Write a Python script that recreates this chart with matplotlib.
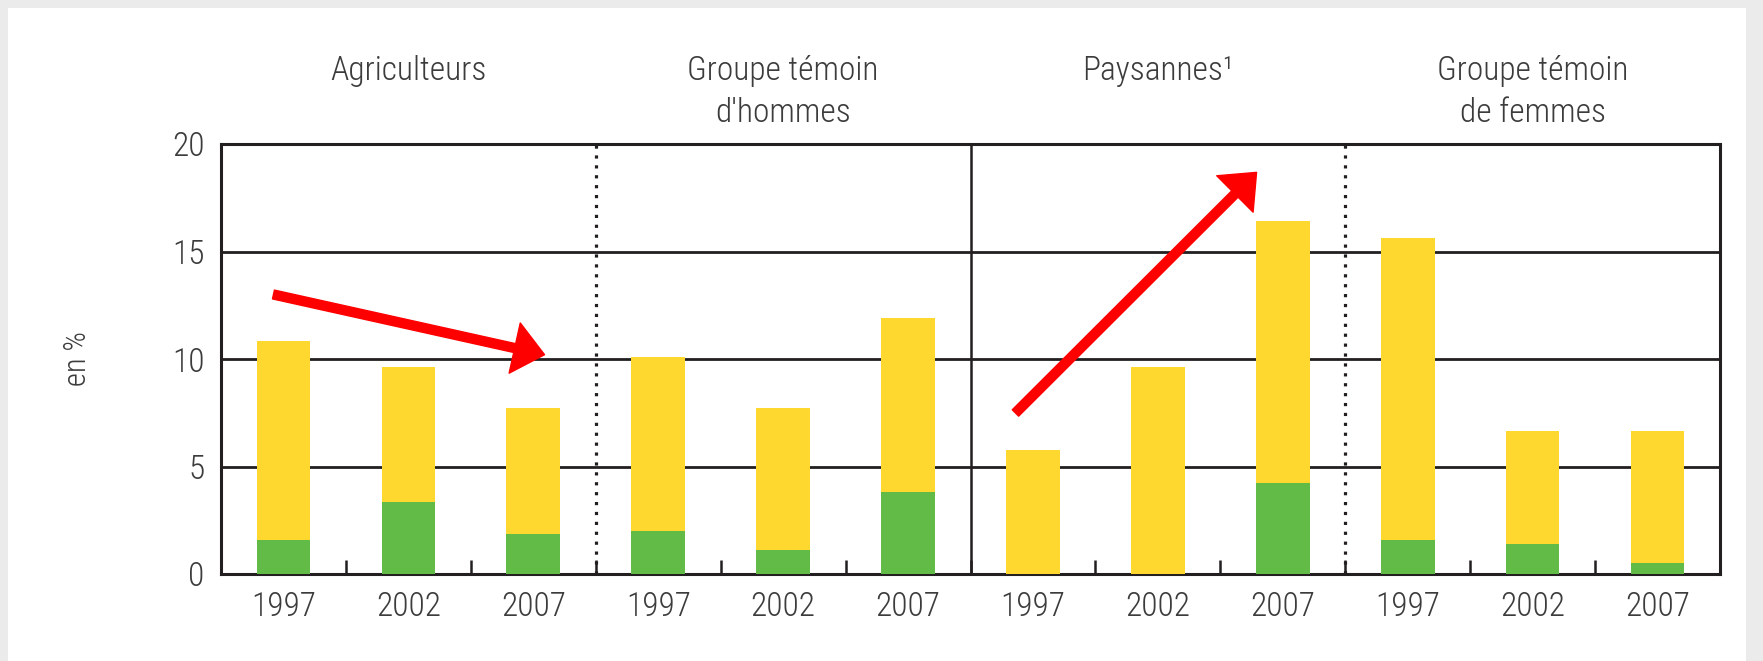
import numpy as np
import matplotlib.pyplot as plt
from matplotlib import font_manager
from matplotlib.patches import Rectangle

# pick a narrow family if there is one
have = {f.name for f in font_manager.fontManager.ttflist}
for fam in ['Liberation Sans Narrow', 'DejaVu Sans Condensed', 'Roboto Condensed',
            'Liberation Sans', 'DejaVu Sans']:
    if fam in have:
        break
plt.rcParams['font.family'] = [fam, 'DejaVu Sans']
plt.rcParams['font.weight'] = 'light'

# data
groups = ['Agriculteurs', "Groupe témoin\nd'hommes", 'Paysannes¹', 'Groupe témoin\nde femmes']
years = ['1997', '2002', '2007']
total = [10.85, 9.65, 7.7, 10.1, 7.7, 11.9, 5.75, 9.65, 16.4, 15.65, 6.65, 6.65]
green = [1.6, 3.35, 1.85, 2.0, 1.1, 3.8, 0.0, 0.0, 4.25, 1.6, 1.4, 0.5]

YELLOW = '#fed82e'
GREEN = '#61bb46'
TXT = '#3c3c3c'
LINE = '#231f20'

W, H = 1763, 661
fig = plt.figure(figsize=(W / 100, H / 100), dpi=100)
fig.patch.set_facecolor('#ebebeb')
fig.patches.append(Rectangle((8 / W, 0), (1746 - 8) / W, 1 - 8 / H,
                             transform=fig.transFigure, facecolor='white',
                             edgecolor='none', zorder=-5))

ax = fig.add_axes([221 / W, 1 - 574 / H, (1720 - 221) / W, (574 - 144) / H])
ax.set_zorder(2)
ax.patch.set_alpha(0)

x = np.arange(len(total)) + 0.5
yellow = np.array(total) - np.array(green)
ax.bar(x, green, width=0.43, color=GREEN, zorder=3)
ax.bar(x, yellow, width=0.43, bottom=green, color=YELLOW, zorder=3)

ax.set_xlim(0, 12)
ax.set_ylim(0, 20)

# horizontal grid
for v in [5, 10, 15]:
    ax.axhline(v, color=LINE, lw=2.0, zorder=1)

# group separators
ax.axvline(3, color=LINE, lw=2.3, ls=(0, (1, 2.1)), zorder=2)
ax.axvline(9, color=LINE, lw=2.3, ls=(0, (1, 2.1)), zorder=2)
ax.axvline(6, color=LINE, lw=1.8, zorder=2)

for s in ax.spines.values():
    s.set_linewidth(2.2)
    s.set_color(LINE)

ax.set_xticks(x)
ax.set_xticklabels(years * 4)
ax.set_xticks(np.arange(1, 12), minor=True)
ax.tick_params(axis='x', which='major', length=0, pad=12, labelsize=24, labelcolor=TXT)
ax.tick_params(axis='x', which='minor', direction='in', length=10, width=1.8, color=LINE)
ax.set_yticks([0, 5, 10, 15, 20])
ax.tick_params(axis='y', length=0, pad=12, labelsize=24, labelcolor=TXT)

fig.text(77 / W, 0.5 * ((1 - 574 / H) + (1 - 144 / H)), 'en %', rotation=90,
         ha='center', va='center', fontsize=22, color=TXT)

# group titles
for i, g in enumerate(groups):
    cx = (221 + (1720 - 221) * (3 * i + 1.5) / 12) / W
    for j, line in enumerate(g.split('\n')):
        fig.text(cx, 1 - (80 + 42 * j) / H, line, ha='center', va='baseline',
                 fontsize=24, color=TXT)

# red trend arrows
style = 'simple,head_length=22,head_width=37,tail_width=6.5'
ax.annotate('', xy=(2.59, 10.2), xytext=(0.42, 13.0),
            arrowprops=dict(arrowstyle=style, mutation_scale=1, color='#ff0000',
                            shrinkA=0, shrinkB=0), zorder=5)
ax.annotate('', xy=(8.29, 18.68), xytext=(6.36, 7.49),
            arrowprops=dict(arrowstyle=style, mutation_scale=1, color='#ff0000',
                            shrinkA=0, shrinkB=0), zorder=5)

fig.savefig('out.png', dpi=100, facecolor=fig.get_facecolor())
